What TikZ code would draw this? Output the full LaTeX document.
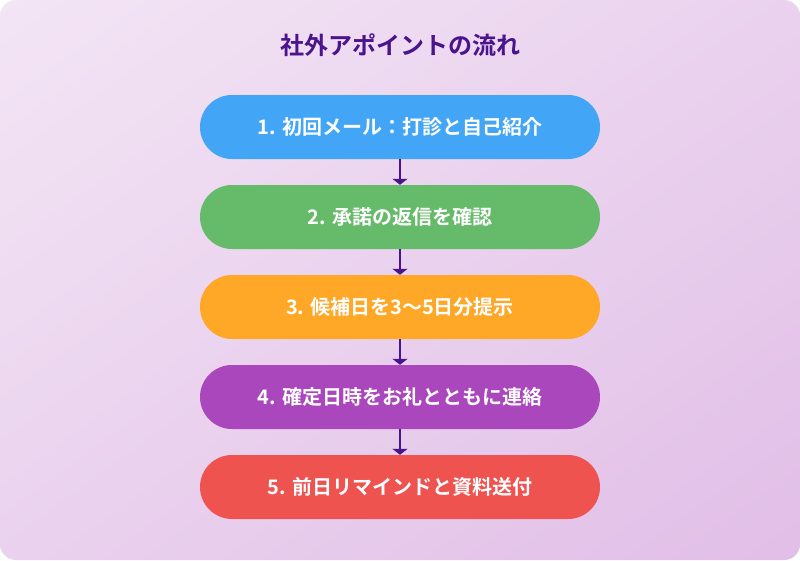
\documentclass[tikz,border=0pt]{standalone}
\usepackage{fontspec}
\newfontfamily\cjk{Noto Sans CJK JP}[BoldFont={Noto Sans CJK JP Bold}]
\usetikzlibrary{arrows.meta,shadings}
\definecolor{bgA}{HTML}{F3E5F5}
\definecolor{bgB}{HTML}{E1BEE7}
\definecolor{bgM}{HTML}{EAD2EE}
\definecolor{titlec}{HTML}{4A148C}
\definecolor{c1}{HTML}{42A5F5}
\definecolor{c2}{HTML}{66BB6A}
\definecolor{c3}{HTML}{FFA726}
\definecolor{c4}{HTML}{AB47BC}
\definecolor{c5}{HTML}{EF5350}
\tikzset{
  stepbox/.style={rounded corners=32pt, minimum width=400pt, minimum height=64pt, inner sep=0pt,
    text=white, font=\cjk\bfseries\fontsize{20}{24}\selectfont},
  flowarrow/.style={draw=titlec, line width=2.6pt, -{Triangle[width=15pt,length=6pt]}}
}
\begin{document}
\begin{tikzpicture}[x=1pt,y=-1pt]
\useasboundingbox (0,0) rectangle (800,560);
\fill[white] (0,0) rectangle (800,560);
\shade[rounded corners=16pt, upper left=bgA, lower right=bgB, upper right=bgM, lower left=bgM] (0,0) rectangle (800,560);
\node[text=titlec, font=\cjk\bfseries\fontsize{24}{28}\selectfont] (title) at (400,45) {社外アポイントの流れ};
\node[stepbox, fill=c1] (s1) at (400,127) {1. 初回メール：打診と自己紹介};
\node[stepbox, fill=c2] (s2) at (400,217) {2. 承諾の返信を確認};
\node[stepbox, fill=c3] (s3) at (400,307) {3. 候補日を3～5日分提示};
\node[stepbox, fill=c4] (s4) at (400,397) {4. 確定日時をお礼とともに連絡};
\node[stepbox, fill=c5] (s5) at (400,487) {5. 前日リマインドと資料送付};
\draw[flowarrow] (s1.south) -- (s2.north);
\draw[flowarrow] (s2.south) -- (s3.north);
\draw[flowarrow] (s3.south) -- (s4.north);
\draw[flowarrow] (s4.south) -- (s5.north);
\end{tikzpicture}
\end{document}
